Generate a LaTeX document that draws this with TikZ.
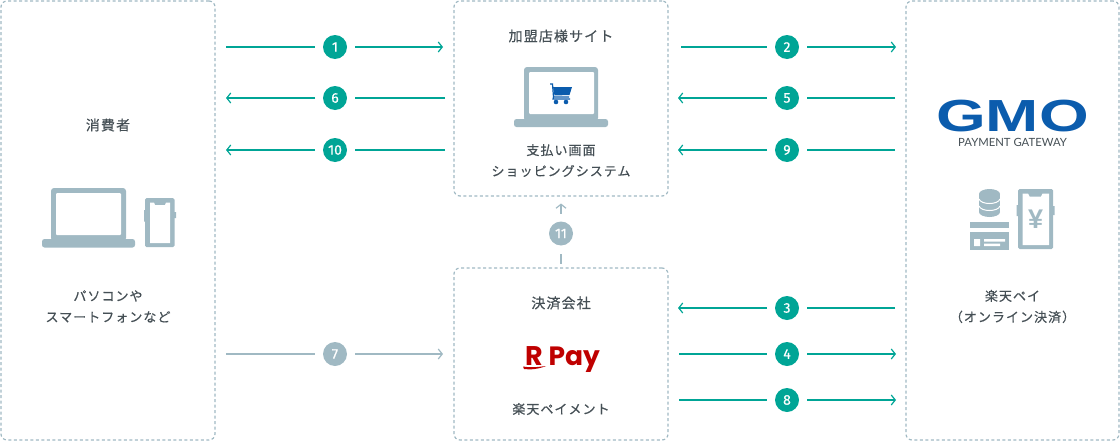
\documentclass[tikz,border=0pt]{standalone}
\usepackage{fontspec}
\usetikzlibrary{arrows.meta}
\setmainfont{Noto Sans CJK JP}
\newfontfamily\jpfont[LetterSpace=8,FakeBold=0.5]{Noto Sans CJK JP}
\newfontfamily\numfont[FakeBold=0.5]{Fira Sans}
\newfontfamily\logofont{Poppins}
\newfontfamily\gmofont{Liberation Sans}
\newfontfamily\subfont{Lato}
\definecolor{teal}{HTML}{00A596}
\definecolor{slate}{HTML}{A0B9C3}
\definecolor{ink}{HTML}{454F55}
\definecolor{gmoblue}{HTML}{0B5CAD}
\definecolor{rred}{HTML}{BF0000}
\tikzset{
  panel/.style={draw=slate,line width=1.2pt,dash pattern=on 3pt off 2.5pt,rounded corners=6pt,
    minimum width=#1,inner sep=0pt},
  lab/.style={text=ink,align=center,font=\fontsize{13}{21}\selectfont\jpfont},
  title/.style={text=ink,align=center,font=\fontsize{14}{21}\selectfont\jpfont},
  num/.style={circle,fill=#1,text=white,minimum size=24pt,inner sep=0pt,outer sep=8pt,
    font=\fontsize{14}{14}\selectfont\numfont},
  flow/.style={draw=#1,line width=1.2pt},
  icon/.style={fill=slate,draw=none},
  hole/.style={fill=white,draw=none},
  tip/.style={-{Straight Barb[length=4pt,width=10pt,line width=1.2pt]}}
}
\begin{document}
\begin{tikzpicture}[x=1pt,y=-1pt]
  \useasboundingbox (0,0) rectangle (1120,442);
  % panels
  \node[panel=214pt,minimum height=439pt] (shopper) at (108,220.5) {};
  \node[panel=214pt,minimum height=195pt] (shop) at (561,98.5) {};
  \node[panel=214pt,minimum height=172pt] (payco) at (561,354) {};
  \node[panel=213pt,minimum height=439pt] (gateway) at (1012.5,220.5) {};
  % panel texts
  \node[title] (shoppername) at (108,125) {消費者};
  \node[lab] (shopperdev) at (108,306.5) {パソコンや\\スマートフォンなど};
  \node[title] (shopname) at (561,36) {加盟店様サイト};
  \node[lab] (shopsys) at (561,160.5) {支払い画面\\ショッピングシステム};
  \node[title] (payconame) at (561,303) {決済会社};
  \node[lab] (paycosub) at (561,409) {楽天ペイメント};
  \node[lab] (gatewaysub) at (1012.5,306.5) {楽天ペイ\\（オンライン決済）};
  % logos
  \node[text=gmoblue,inner sep=0pt,font=\fontsize{45}{45}\selectfont\gmofont\bfseries] (gmo) at (1012.5,116) {\scalebox{1.42}[1]{GMO}};
  \node[text=ink,inner sep=0pt,font=\fontsize{11.3}{12}\selectfont\subfont] (gmosub) at (1012.5,142) {PAYMENT GATEWAY};
  \node[text=rred,inner sep=0pt,anchor=base west,font=\fontsize{27}{27}\selectfont\logofont\bfseries] (rmark) at (525,365) {R};
  \node[text=rred,inner sep=0pt,anchor=base west,font=\fontsize{26.5}{27}\selectfont\logofont\bfseries] (paymark) at (548.5,365) {Pay};
  \fill[rred] (523,366.5) .. controls (530,368) and (538,367) .. (546,366) .. controls (539,369) and (530,370) .. (524,369) -- cycle;
  % laptop, consumer
  \fill[icon,rounded corners=3pt] (51,241) -- (51,188) -- (126,188) -- (126,241) -- cycle;
  \fill[hole,rounded corners=1pt] (56,193) rectangle (121,235);
  \fill[icon,rounded corners=2.5pt] (42,239) -- (135,239) -- (135,247.5) -- (42,247.5) -- cycle;
  % phone, consumer
  \fill[icon,rounded corners=1.5pt] (145,198) rectangle (174.5,247);
  \fill[icon] (144,210) rectangle (146,221.5) (174,212) rectangle (176,218);
  \fill[hole] (150,202.5) -- (154,202.5) -- (155,205) -- (165,205) -- (166,202.5) -- (170,202.5) -- (170,243) -- (150,243) -- cycle;
  % laptop, shop
  \fill[icon,rounded corners=3pt] (524,121) -- (524,67) -- (598,67) -- (598,121) -- cycle;
  \fill[hole,rounded corners=1pt] (529,72) rectangle (594,114);
  \fill[icon,rounded corners=2.5pt] (514,119) -- (608,119) -- (608,127) -- (514,127) -- cycle;
  % cart
  \fill[gmoblue] (553,87) -- (572,87) -- (569.5,95) -- (554.5,95.5) -- cycle;
  \draw[gmoblue,line width=1.2pt] (550,84) -- (552.5,84) -- (553.5,97) -- (553,99) -- (570,99) (553.5,97) -- (569,97);
  \fill[gmoblue] (556,102) circle (2.3pt) (566,102) circle (2.3pt);
  % coins
  \fill[icon] (979,194) rectangle (1000,212);
  \fill[icon] (989.5,194) ellipse (10.5pt and 5pt) (989.5,212) ellipse (10.5pt and 5pt);
  \draw[white,line width=1pt] (979,199) .. controls (981,205) and (998,205) .. (1000,199);
  \draw[white,line width=1pt] (979,206) .. controls (981,212) and (998,212) .. (1000,206);
  % card
  \fill[icon] (970,222) rectangle (1009,250);
  \fill[hole] (970,228) rectangle (1009,232);
  \fill[hole] (974,239) rectangle (980,246) (984,239) rectangle (1005,241.5) (984,243.5) rectangle (1000,246);
  % phone, gateway
  \fill[icon,rounded corners=1.5pt] (1018,189) rectangle (1053,249);
  \fill[icon] (1016.5,205) rectangle (1019,216) (1052,206) rectangle (1054.5,215);
  \fill[hole] (1022.5,193.5) -- (1028,193.5) -- (1029.5,196.5) -- (1041,196.5) -- (1042.5,193.5) -- (1049,193.5) -- (1049,245) -- (1022.5,245) -- cycle;
  \node[text=slate,inner sep=0pt,font=\fontsize{27}{27}\selectfont\gmofont\bfseries] (yen) at (1035.5,219.5) {¥};
  % numbered flows
  \foreach \nm/\xa/\xb/\xc/\yy/\col/\lab in {
    a/226/335/443/47/teal/1, b/681/787/896/47/teal/2, e/895/787/678/98/teal/5,
    f/445/335/226/98/teal/6, j/445/335/226/150/teal/10, i/895/787/678/150/teal/9,
    c/895/787/678/308/teal/3, d/679/787/896/354/teal/4, h/679/787/896/400/teal/8,
    g/226/335/443/354/slate/7}{
    \coordinate (\nm from) at (\xa,\yy);
    \coordinate (\nm to) at (\xc,\yy);
    \node[num=\col] (\nm num) at (\xb,\yy) {\lab};
    \draw[flow=\col] (\nm from) -- (\nm num);
    \draw[flow=\col,tip] (\nm num) -- (\nm to);
  }
  % flow between the two middle panels
  \coordinate (k from) at (561,263.5);
  \coordinate (k to) at (561,203.5);
  \node[num=slate] (k num) at (561,233.5) {11};
  \draw[flow=slate] (k from) -- (k num);
  \draw[flow=slate,tip] (k num) -- (k to);
\end{tikzpicture}
\end{document}
